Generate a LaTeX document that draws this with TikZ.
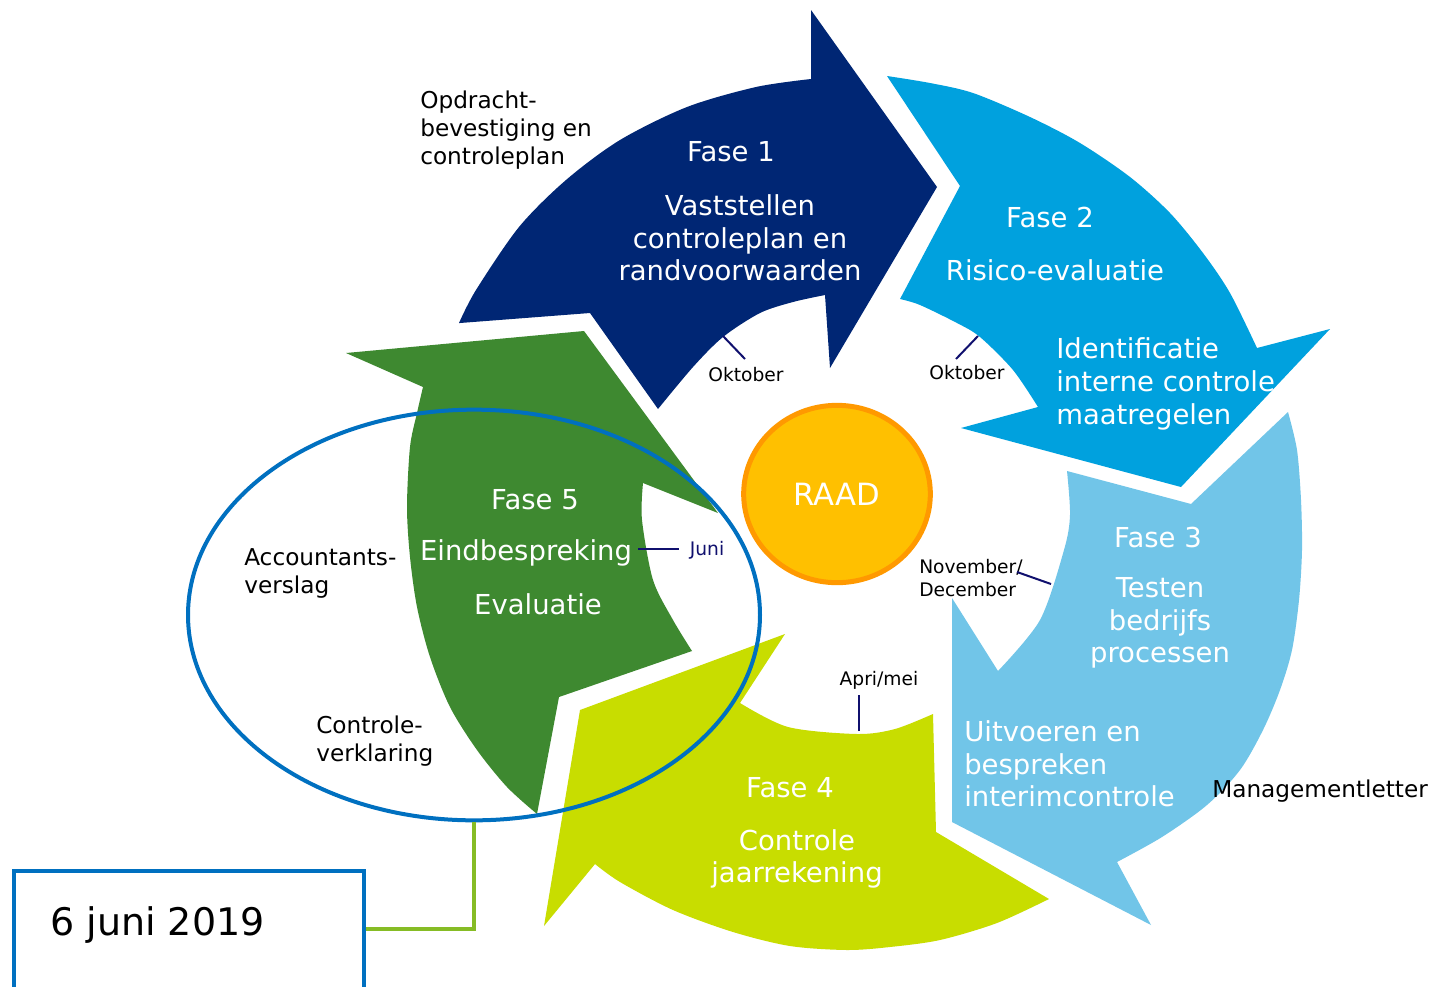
\documentclass[tikz,border=0pt]{standalone}
\usepackage{fontspec}
\setmainfont{DejaVu Sans}
\usetikzlibrary{shapes.geometric}
\definecolor{faseeen}{RGB}{0,38,116}
\definecolor{fasetwee}{RGB}{0,161,222}
\definecolor{fasedrie}{RGB}{113,197,232}
\definecolor{fasevier}{RGB}{200,221,0}
\definecolor{fasevijf}{RGB}{62,137,48}
\definecolor{raadgeel}{RGB}{255,192,0}
\definecolor{raadrand}{RGB}{255,153,0}
\definecolor{kringblauw}{RGB}{0,112,192}
\definecolor{lijngroen}{RGB}{134,188,37}
\definecolor{maandnavy}{RGB}{16,16,110}
\begin{document}
\begin{tikzpicture}[x=0.75pt,y=-0.75pt,
    fasetekst/.style={font=\fontsize{20.6}{24.5}\selectfont, text=white, inner sep=0pt},
    notitie/.style={font=\fontsize{17.4}{21}\selectfont, align=left, inner sep=0pt, anchor=west},
    maand/.style={font=\fontsize{14}{17.2}\selectfont, inner sep=0pt},
    streep/.style={draw=maandnavy, line width=1.5pt}]
    \clip (0,0) rectangle (1432,986);
    \fill[white] (0,0) rectangle (1432,986);
    % vijf fasen
    \fill[faseeen] (460,323) -- (590,313) -- (658,409)
        -- plot[smooth] coordinates {(658,409) (693,367) (723,337) (760,313) (793,302) (825,295)}
        -- (830,368) -- (937,187) -- (811,10) -- (811,79)
        -- plot[smooth] coordinates {(811,79) (756,87) (687,107) (620,140) (566,180) (519,227) (476,290) (459,323)} -- cycle;
    \fill[fasetwee] (887,76) -- (960,186) -- (900,299)
        -- plot[smooth] coordinates {(900,299) (920,305) (957,323) (980,337) (1013,370) (1038,407)}
        -- (961,428) -- (1181,487) -- (1330,329) -- (1257,348)
        -- plot[smooth] coordinates {(1257,348) (1230,293) (1203,253) (1170,213) (1130,177) (1080,143) (1030,117) (973,93) (930,83) (887,76)} -- cycle;
    \fill[fasedrie] (1067,471) -- (1191,504) -- (1288,412)
        -- plot[smooth] coordinates {(1288,412) (1297,450) (1301,500) (1302,550) (1299,600) (1292,650) (1280,690) (1263,730) (1240,770) (1207,805) (1162,837) (1117,862)}
        -- (1151,925) -- (952,822) -- (952,598) -- (998,671)
        -- plot[smooth] coordinates {(998,671) (1040,620) (1064,550) (1070,515) (1067,471)} -- cycle;
    \fill[fasevier] (933,714) -- (936,832) -- (1049,899)
        -- plot[smooth] coordinates {(1049,899) (997,923) (940,940) (890,947) (847,950) (790,946) (733,932) (673,910) (620,882) (595,864)}
        -- (544,926) -- (580,710) -- (785,634) -- (740,703)
        -- plot[smooth] coordinates {(740,703) (788,727) (857,734) (895,729) (933,714)} -- cycle;
    \fill[fasevijf] (346,353) -- (584,331) -- (718,513) -- (643,483)
        -- plot[smooth] coordinates {(643,483) (642,520) (653,580) (673,620) (692,651)}
        -- (559,697) -- (537,814)
        -- plot[smooth] coordinates {(537,814) (507,787) (477,750) (450,707) (430,657) (417,607) (410,557) (407,507) (410,447) (417,413) (423,387)} -- cycle;

    % teksten in de fasen
    \node[fasetekst] (f1titel) at (731,152) {Fase 1};
    \node[fasetekst, align=center] (f1tekst) at (740,238) {Vaststellen\\controleplan en\\randvoorwaarden};
    \node[fasetekst] (f2titel) at (1050,217) {Fase 2};
    \node[fasetekst] (f2tekst) at (1055,270) {Risico-evaluatie};
    \node[fasetekst, align=left, anchor=west] (f2extra) at (1056,384) {Identificatie\\interne controle\\maatregelen};
    \node[fasetekst] (f3titel) at (1158,537) {Fase 3};
    \node[fasetekst, align=center] (f3tekst) at (1160,623) {Testen\\bedrijfs\\processen};
    \node[fasetekst, align=left, anchor=west] (f3extra) at (964,764) {Uitvoeren en\\bespreken\\interimcontrole};
    \node[fasetekst] (f4titel) at (790,788) {Fase 4};
    \node[fasetekst, align=center] (f4tekst) at (797,859) {Controle\\jaarrekening};
    \node[fasetekst] (f5titel) at (535,500) {Fase 5};
    \node[fasetekst] (f5tekst) at (526,553) {Eindbespreking};
    \node[fasetekst] (f5extra) at (538,604) {Evaluatie};

    % raad en kring
    \node[ellipse, draw=raadrand, fill=raadgeel, line width=3.75pt, inner sep=0pt,
        minimum width=140pt, minimum height=133pt] (raad) at (837,494) {};
    \node[text=white, font=\fontsize{23}{27}\selectfont] (raadtekst) at (raad) {RAAD};
    \node[ellipse, draw=kringblauw, line width=3pt, inner sep=0pt,
        minimum width=429pt, minimum height=308pt] (kring) at (474,615) {};

    % notities
    \node[notitie] (opdracht) at (420,130) {Opdracht-\\bevestiging en\\controleplan};
    \node[notitie] (accountant) at (244,573) {Accountants-\\verslag};
    \node[notitie] (verklaring) at (316,741) {Controle-\\verklaring};
    \node[notitie] (mletter) at (1212,791) {Managementletter};

    % maanden
    \node[maand] (okt1) at (746,375) {Oktober};
    \node[maand] (okt2) at (967,373) {Oktober};
    \node[maand, align=left, anchor=west] (novdec) at (919,578) {November/\\December};
    \node[maand] (aprmei) at (879,680) {Apri/mei};
    \node[maand, text=maandnavy] (juni) at (707,550) {Juni};
    \coordinate (okt1a) at (723,336);
    \coordinate (okt1b) at (745,359);
    \coordinate (okt2a) at (978,336);
    \coordinate (okt2b) at (956,359);
    \coordinate (nova) at (1051,584);
    \coordinate (novb) at (1017,572);
    \coordinate (apra) at (859,731);
    \coordinate (aprb) at (859,695);
    \coordinate (junia) at (638,549);
    \coordinate (junib) at (679,549);
    \draw[streep] (okt1a) -- (okt1b);
    \draw[streep] (okt2a) -- (okt2b);
    \draw[streep] (nova) -- (novb);
    \draw[streep] (apra) -- (aprb);
    \draw[streep] (junia) -- (junib);

    % datum
    \node[draw=kringblauw, line width=3.4pt, minimum width=262.5pt, minimum height=97.5pt,
        inner sep=0pt] (datum) at (189,936) {};
    \node[anchor=base west, font=\fontsize{28.5}{34}\selectfont, inner sep=0pt] (datumtekst) at (50,935) {6 juni 2019};
    \coordinate (hoek) at (474,929);
    \draw[lijngroen, line width=3.4pt] (kring.south) -- (hoek) -- (datum.east |- hoek);
\end{tikzpicture}
\end{document}
